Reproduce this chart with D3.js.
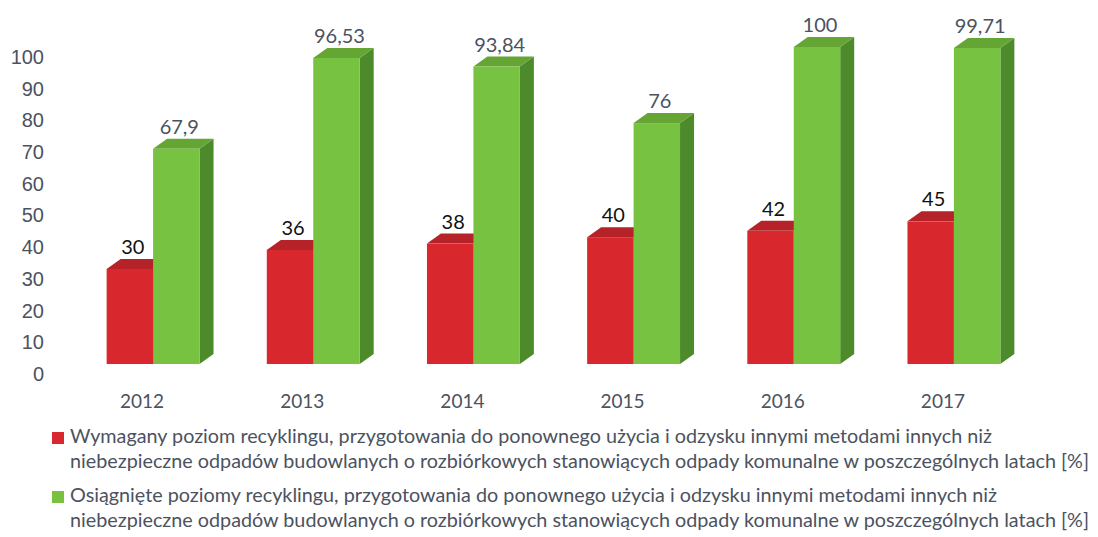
<!DOCTYPE html>
<meta charset="utf-8">
<style>
body { margin: 0; background: #fff; }
svg { font-family: Lato, "Open Sans", sans-serif; }
.axis text { fill: #4b5260; font-size: 20px; }
.year { fill: #4b5260; font-size: 19px; }
.legend text { fill: #4b5260; }
</style>
<svg width="1098" height="537"></svg>
<script src="https://cdnjs.cloudflare.com/ajax/libs/d3/7.8.5/d3.min.js"></script>
<script>

var years = ["2012", "2013", "2014", "2015", "2016", "2017"];
var required = [30, 36, 38, 40, 42, 45];
var achieved = [67.9, 96.53, 93.84, 76, 100, 99.71];
var yTicks = [0, 10, 20, 30, 40, 50, 60, 70, 80, 90, 100];
var legendLines = [
  ["Wymagany poziom recyklingu, przygotowania do ponownego użycia i odzysku innymi metodami innych niż",
   "niebezpieczne odpadów budowlanych o rozbiórkowych stanowiących odpady komunalne w poszczególnych latach [%]"],
  ["Osiągnięte poziomy recyklingu, przygotowania do ponownego użycia i odzysku innymi metodami innych niż",
   "niebezpieczne odpadów budowlanych o rozbiórkowych stanowiących odpady komunalne w poszczególnych latach [%]"]
];

var svg = d3.select("svg");

// depth of the fake 3d
var dx = 14, dy = -10;

var x = d3.scaleBand()
    .domain(years)
    .range([73, 1034])
    .paddingInner(0.42)
    .paddingOuter(0.21);

var sub = d3.scaleBand()
    .domain(["req", "ach"])
    .range([0, x.bandwidth()]);

var y = d3.scaleLinear()
    .domain([0, 100])
    .range([364, 47]);

var series = [
  {key: "req", values: required, front: "#d8272d", top: "#b52227", side: "#9c1d21", label: "#111"},
  {key: "ach", values: achieved, front: "#78c242", top: "#65a534", side: "#4d8a2c", label: "#4b5260"}
];

// y axis, sits a bit lower than the bars (3d wall offset)
svg.append("g")
    .attr("class", "axis")
    .attr("transform", "translate(44,10)")
    .call(d3.axisLeft(y).tickValues(yTicks).tickSize(0).tickPadding(0))
    .call(function(g) { g.select(".domain").remove(); })
    .selectAll("text").style("font-family", "inherit");

function fmt(v) { return String(v).replace(".", ","); }

var bars = svg.append("g");

years.forEach(function(yr, i) {
  series.forEach(function(s) {
    var v = s.values[i],
        x0 = x(yr) + sub(s.key),
        w = sub.bandwidth(),
        yt = y(v),
        yb = y(0),
        g = bars.append("g");

    g.append("path")
        .attr("fill", s.side)
        .attr("d", "M" + (x0 + w) + "," + yt + "l" + dx + "," + dy + "L" + (x0 + w + dx) + "," + (yb + dy) + "L" + (x0 + w) + "," + yb + "Z");
    g.append("path")
        .attr("fill", s.top)
        .attr("d", "M" + x0 + "," + yt + "l" + dx + "," + dy + "h" + w + "l" + (-dx) + "," + (-dy) + "Z");
    g.append("rect")
        .attr("x", x0)
        .attr("y", yt)
        .attr("width", w)
        .attr("height", yb - yt)
        .attr("fill", s.front);
    g.append("text")
        .attr("x", x0 + w / 2 + 3)
        .attr("y", yt + dy - 5)
        .attr("text-anchor", "middle")
        .attr("fill", s.label)
        .style("font-size", "20px")
        .text(fmt(v));
  });
});

svg.selectAll(".year")
    .data(years)
  .enter().append("text")
    .attr("class", "year")
    .attr("x", function(d) { return x(d) + x.bandwidth() / 2 - 11; })
    .attr("y", 408)
    .attr("text-anchor", "middle")
    .text(function(d) { return d; });

// legend
var legend = svg.append("g").attr("class", "legend");
var lineY = [[443, 468], [502, 527]];

legendLines.forEach(function(lines, i) {
  legend.append("rect")
      .attr("x", 52)
      .attr("y", lineY[i][0] - 11)
      .attr("width", 12)
      .attr("height", 12)
      .attr("fill", series[i].front);
  lines.forEach(function(t, j) {
    legend.append("text")
        .attr("x", 70)
        .attr("y", lineY[i][j])
        .style("font-size", "17px")
        .text(t);
  });
});

// fit legend text to the width used in the original
var longest = legend.selectAll("text").filter(function(d, i) { return i === 1; }).node();
var k = 1020 / longest.getComputedTextLength();
legend.selectAll("text").style("font-size", (17 * k) + "px");

</script>
